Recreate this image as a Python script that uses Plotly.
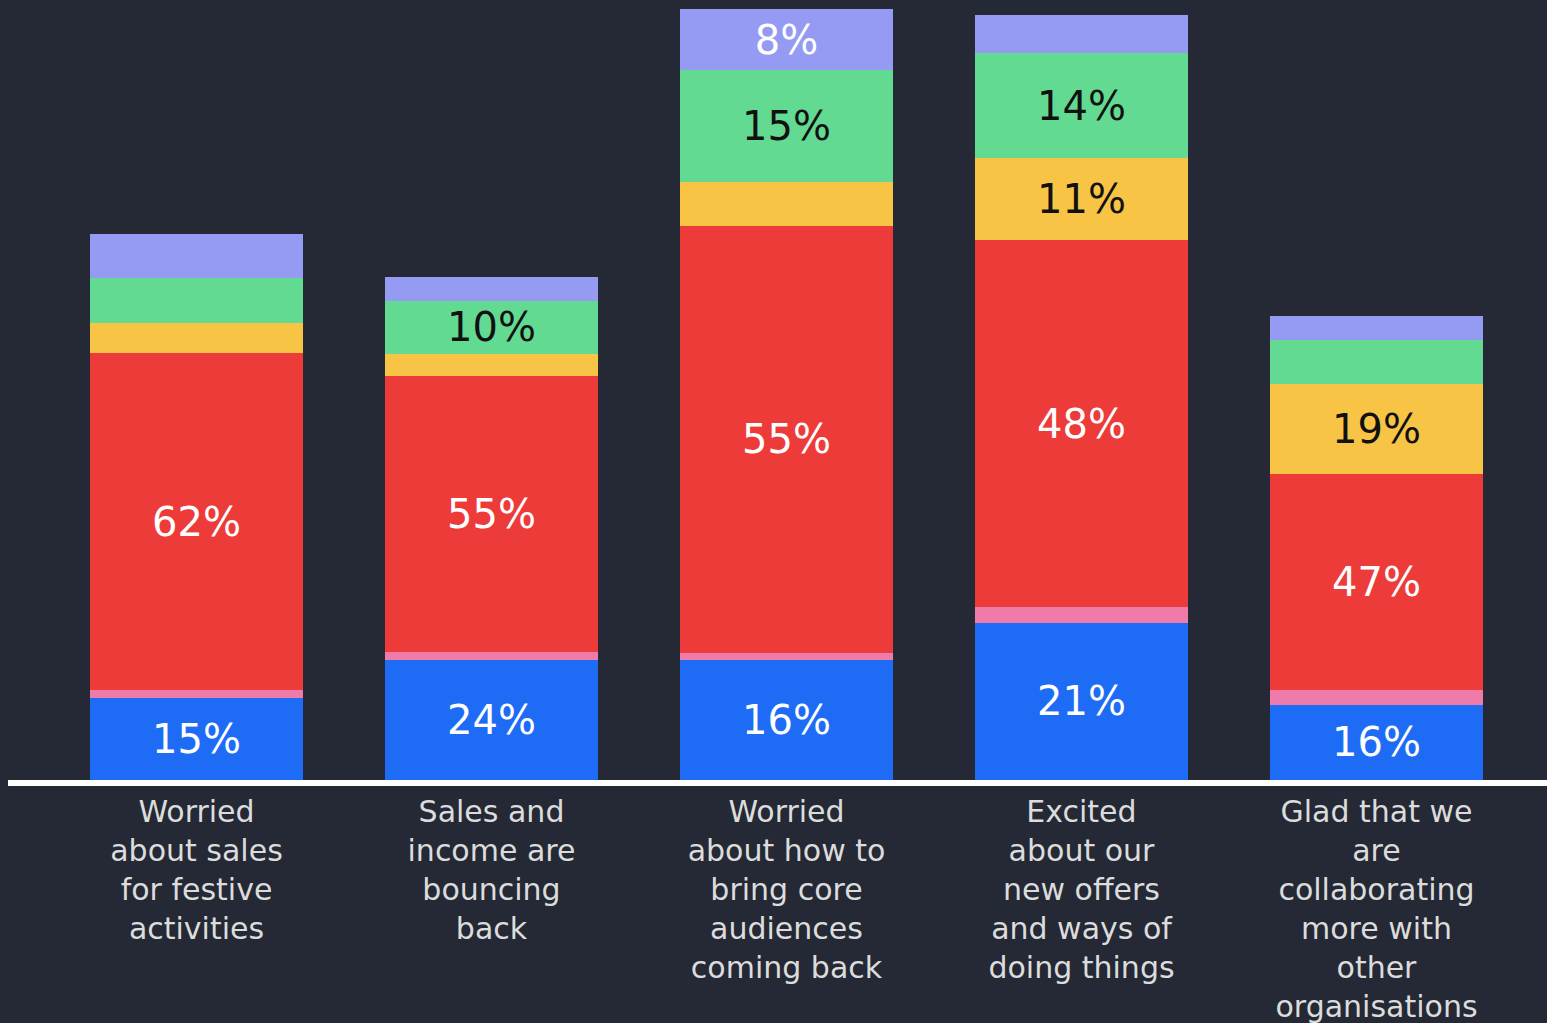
import plotly.graph_objects as go

categories = [
    "Worried<br>about sales<br>for festive<br>activities",
    "Sales and<br>income are<br>bouncing<br>back",
    "Worried<br>about how to<br>bring core<br>audiences<br>coming back",
    "Excited<br>about our<br>new offers<br>and ways of<br>doing things",
    "Glad that we<br>are<br>collaborating<br>more with<br>other<br>organisations",
]

# relative bar heights (tallest bar = 100)
bar_scale = [70.9, 65.1, 100.0, 99.1, 60.1]

# share of each segment within a bar (%), bottom to top
blue = [15.0, 23.8, 15.5, 20.6, 16.2]
pink = [1.5, 1.6, 1.0, 2.0, 3.2]
red = [61.5, 55.1, 55.3, 48.0, 46.7]
yellow = [5.5, 4.4, 5.7, 10.7, 19.4]
green = [8.2, 10.4, 14.5, 13.8, 9.5]
purple = [8.2, 4.8, 7.9, 5.0, 5.0]

# labels printed on the segments
blue_labels = ["15%", "24%", "16%", "21%", "16%"]
pink_labels = ["", "", "", "", ""]
red_labels = ["62%", "55%", "55%", "48%", "47%"]
yellow_labels = ["", "", "", "11%", "19%"]
green_labels = ["", "10%", "15%", "14%", ""]
purple_labels = ["", "", "8%", "", ""]

series = [
    ("Blue", blue, blue_labels, "#1E6CF5", "#FFFFFF"),
    ("Pink", pink, pink_labels, "#EE7BA9", "#FFFFFF"),
    ("Red", red, red_labels, "#ED3B3A", "#FFFFFF"),
    ("Yellow", yellow, yellow_labels, "#F7C446", "#111111"),
    ("Green", green, green_labels, "#62DA92", "#111111"),
    ("Purple", purple, purple_labels, "#959BF3", "#FFFFFF"),
]

FONT = "DejaVu Sans"

fig = go.Figure()
for name, vals, labels, color, tcolor in series:
    heights = [v * s / 100 for v, s in zip(vals, bar_scale)]
    fig.add_trace(go.Bar(
        name=name,
        x=categories,
        y=heights,
        width=0.722,
        marker=dict(color=color, line=dict(width=0)),
        text=labels,
        textposition="inside",
        insidetextanchor="middle",
        textangle=0,
        constraintext="none",
        textfont=dict(family=FONT, size=40, color=tcolor),
        hoverinfo="skip",
    ))

fig.update_layout(
    barmode="stack",
    width=1547,
    height=1023,
    paper_bgcolor="#242935",
    plot_bgcolor="#242935",
    margin=dict(l=8, r=0, t=0, b=243),
    showlegend=False,
    xaxis=dict(
        range=[-0.639, 4.578],
        showline=True,
        linecolor="#FFFFFF",
        linewidth=6,
        showgrid=False,
        zeroline=False,
        ticks="",
        tickfont=dict(family=FONT, size=30, color="#DCDCDC"),
        ticklabelstandoff=0,
    ),
    yaxis=dict(
        range=[0, 101.1],
        visible=False,
        showgrid=False,
        zeroline=False,
    ),
)

fig.write_html("out.html")
